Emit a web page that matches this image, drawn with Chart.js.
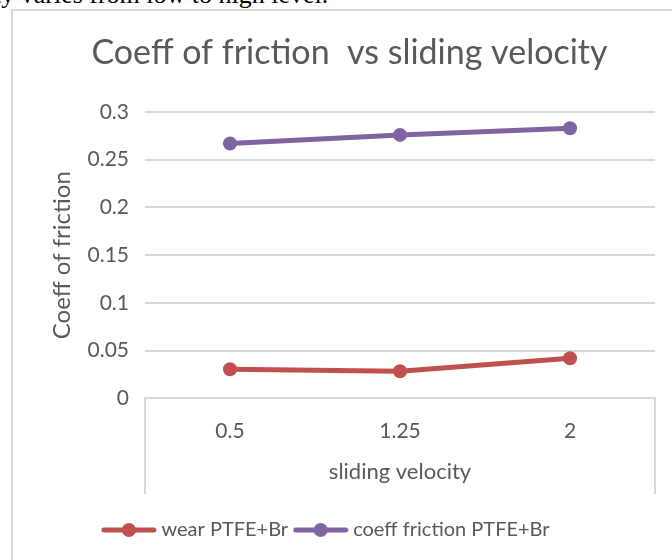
<!DOCTYPE html>
<html>
<head>
<meta charset="utf-8">
<script src="https://cdn.jsdelivr.net/npm/chart.js@4"></script>
<style>
  html, body { margin: 0; padding: 0; background: #fff; overflow: hidden; }
  body { width: 672px; height: 560px; position: relative; }
  #caption { position: absolute; left: -6px; top: -18px; font-family: "Liberation Serif", serif; font-size: 26px; line-height: 26px; color: #000; white-space: nowrap; }
  #frame { position: absolute; left: 11px; top: 9px; width: 700px; height: 600px; border: 2px solid #d9d9d9; }
  #wrap { position: absolute; left: 0; top: 0; width: 672px; height: 560px; }
</style>
</head>
<body>
<div id="caption">ty varies from low to high level.</div>
<div id="frame"></div>
<div id="wrap"><canvas id="frictionChart"></canvas></div>
<script>
    const velocities=["0.5","1.25","2"];
    const wearValues=[0.0305,0.0285,0.042];
    const frictionValues=[0.267,0.276,0.283];
    const yTicks=[0,0.05,0.1,0.15,0.2,0.25,0.3];

    const red="#c0504d";
    const purple="#8064a2";
    const textGray="#595959";
    const gridGray="#d9d9d9";
    const fontName="Lato, 'Open Sans', sans-serif";

    // line with a dot in the middle, like the legend keys in the picture
    function legendKey(color) {
        const c=document.createElement("canvas");
        c.width=56;
        c.height=16;
        const g=c.getContext("2d");
        g.strokeStyle=color;
        g.lineWidth=5;
        g.lineCap="round";
        g.beginPath();
        g.moveTo(3,8);
        g.lineTo(53,8);
        g.stroke();
        g.fillStyle=color;
        g.beginPath();
        g.arc(28,8,7,0,Math.PI*2);
        g.fill();
        return c;
    }

    // box lines under the x axis, and title centred a bit right of the legend
    const axisBox={
        id: "axisBox",
        afterLayout(chart) {
            if (chart.titleBlock) chart.titleBlock.left=44;
        },
        afterDraw(chart) {
            const {ctx,chartArea}=chart;
            const xs=chart.scales.x;
            ctx.save();
            ctx.strokeStyle=gridGray;
            ctx.lineWidth=2;
            ctx.beginPath();
            ctx.moveTo(chartArea.left,chartArea.bottom);
            ctx.lineTo(chartArea.left,xs.bottom-16);
            ctx.moveTo(chartArea.right,chartArea.bottom);
            ctx.lineTo(chartArea.right,xs.bottom-16);
            ctx.stroke();
            ctx.restore();
        },
    };

    const ctx=document.getElementById("frictionChart").getContext("2d");
    const frictionChart=new Chart(ctx,{
        type: "line",
        data: {
            labels: velocities,
            datasets: [{
                label: "wear PTFE+Br",
                data: wearValues,
                borderColor: red,
                backgroundColor: red,
                borderWidth: 5,
                pointRadius: 7,
                pointBorderWidth: 0,
                pointStyle: "circle",
            },{
                label: "coeff friction PTFE+Br",
                data: frictionValues,
                borderColor: purple,
                backgroundColor: purple,
                borderWidth: 5,
                pointRadius: 7,
                pointBorderWidth: 0,
                pointStyle: "circle",
            }],
        },
        options: {
            responsive: true,
            maintainAspectRatio: false,
            animation: false,
            layout: {
                padding: {
                    left: 1,
                    right: 17,
                    top: 0,
                    bottom: 10,
                },
            },
            scales: {
                x: {
                    offset: true,
                    grid: {
                        display: false,
                        drawTicks: false,
                    },
                    border: {
                        display: true,
                        color: gridGray,
                        width: 2,
                    },
                    ticks: {
                        padding: 20,
                        color: textGray,
                        font: {family: fontName, size: 21},
                    },
                    title: {
                        display: true,
                        text: "sliding velocity",
                        color: textGray,
                        font: {family: fontName, size: 22},
                        padding: {top: -5, bottom: 25},
                    },
                },
                y: {
                    min: 0,
                    max: 0.3,
                    afterBuildTicks: function(axis) {
                        axis.ticks=yTicks.map(v=>({value: v}));
                    },
                    afterFit: function(axis) {
                        axis.width=144;
                    },
                    grid: {
                        color: gridGray,
                        lineWidth: 2,
                        drawTicks: false,
                    },
                    border: {
                        display: false,
                    },
                    ticks: {
                        padding: 16,
                        color: textGray,
                        font: {family: fontName, size: 21},
                        callback: function(value) {
                            return String(Math.round(value*100)/100);
                        },
                    },
                    title: {
                        display: true,
                        text: "Coeff of friction",
                        color: textGray,
                        font: {family: fontName, size: 24},
                        padding: {top: 47, bottom: 4},
                    },
                },
            },
            plugins: {
                title: {
                    display: true,
                    text: "Coeff of friction  vs sliding velocity",
                    color: textGray,
                    font: {family: fontName, size: 34, weight: "normal"},
                    padding: {top: 32.6, bottom: 38.6},
                },
                legend: {
                    position: "bottom",
                    labels: {
                        usePointStyle: true,
                        pointStyleWidth: 45,
                        padding: 10,
                        color: textGray,
                        font: {family: fontName, size: 20},
                        generateLabels: function(chart) {
                            return chart.data.datasets.map((ds,i)=>({
                                text: ds.label,
                                pointStyle: legendKey(ds.borderColor),
                                fillStyle: ds.borderColor,
                                strokeStyle: ds.borderColor,
                                lineWidth: 0,
                                fontColor: textGray,
                                datasetIndex: i,
                                hidden: false,
                            }));
                        },
                    },
                },
                tooltip: {
                    enabled: false,
                },
            },
        },
        plugins: [axisBox],
    });
</script>
</body>
</html>
